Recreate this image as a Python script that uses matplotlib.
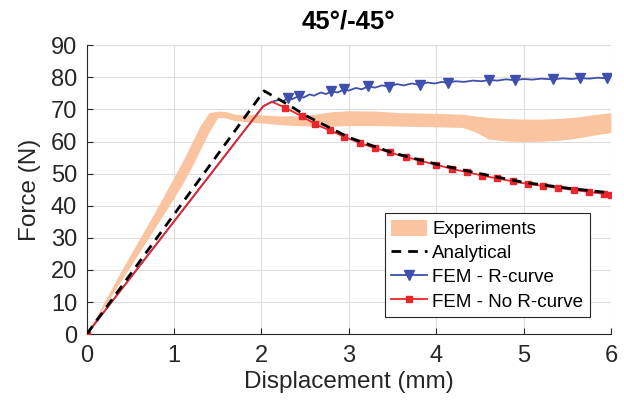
import numpy as np
import matplotlib
matplotlib.use("Agg")
import matplotlib.pyplot as plt

plt.rcParams["font.family"] = ["Liberation Sans", "DejaVu Sans"]

# Experimental envelope (lower / upper force bounds)
exp_x = [0, 0.2, 0.4, 0.6, 0.8, 1.0, 1.1, 1.2, 1.3, 1.4, 1.5, 1.6, 1.7, 1.8, 1.9,
         2.0, 2.2, 2.4, 2.6, 2.8, 3.0, 3.3, 3.6, 4.0, 4.3, 4.45, 4.6, 4.8, 5.0,
         5.2, 5.4, 5.6, 5.8, 6.0]
exp_lo = [0, 8.5, 17, 25.5, 34, 42.5, 47, 52, 57.5, 63, 67.5, 67.3, 66.5, 66.3, 66.0,
          65.8, 65.3, 65.0, 64.8, 64.8, 65.0, 65.0, 64.8, 64.6, 64.4, 63.0, 60.8,
          60.2, 60.0, 60.1, 60.4, 61.0, 62.0, 62.8]
exp_hi = [0, 10, 20, 29.5, 39, 49, 54, 59.5, 65, 69, 69.5, 69.3, 68.5, 68.3, 68.5,
          68.3, 68.0, 68.0, 68.5, 69.3, 69.6, 69.5, 69.0, 68.8, 68.5, 68.0, 67.5,
          67.2, 67.0, 67.0, 67.2, 67.6, 68.4, 69.0]

# Analytical model
ana_x = [0, 2.03, 2.3, 2.5, 3.0, 3.5, 4.0, 4.5, 5.0, 5.5, 6.0]
ana_y = [0, 75.8, 71.6, 68.2, 61.3, 56.5, 53.0, 50.0, 47.3, 45.5, 44.0]

# FEM without R-curve
nor_x = [0, 2.02, 2.12, 2.27, 2.46, 2.61, 2.78, 2.95, 3.13, 3.3, 3.47, 3.65, 3.82,
         4.0, 4.18, 4.35, 4.53, 4.7, 4.88, 5.05, 5.22, 5.4, 5.58, 5.75, 5.92, 6.0]
nor_y = [0, 71.0, 72.4, 70.6, 67.9, 65.5, 63.5, 61.5, 59.5, 58.0, 56.6, 55.2, 54.0,
         52.8, 51.5, 50.5, 49.4, 48.5, 47.6, 46.8, 46.2, 45.5, 44.9, 44.3, 43.7, 43.4]

# FEM with R-curve
rc_x = [0, 2.02, 2.12, 2.2, 2.25, 2.3, 2.35, 2.43, 2.48, 2.55, 2.6, 2.68, 2.74, 2.8,
        2.87, 2.95, 3.0, 3.08, 3.15, 3.22, 3.3, 3.38, 3.46, 3.55, 3.63, 3.72, 3.81,
        3.9, 3.98, 4.07, 4.13, 4.22, 4.32, 4.42, 4.52, 4.61, 4.7, 4.8, 4.9, 5.0,
        5.1, 5.2, 5.34, 5.45, 5.55, 5.65, 5.75, 5.85, 5.95, 6.0]
rc_y = [0, 71.0, 72.4, 73.0, 72.6, 73.6, 73.2, 74.2, 73.7, 74.7, 74.3, 75.3, 74.8,
        75.7, 75.3, 76.3, 75.9, 76.7, 76.3, 77.2, 76.8, 77.5, 77.1, 77.9, 77.5, 78.1,
        77.7, 78.4, 78.1, 78.6, 78.3, 78.8, 78.6, 79.0, 78.8, 79.2, 79.0, 79.4, 79.1,
        79.5, 79.3, 79.6, 79.4, 79.7, 79.5, 79.8, 79.6, 79.9, 79.7, 79.9]
rc_marks = [2.3, 2.43, 2.8, 2.95, 3.22, 3.46, 3.81, 4.13, 4.61, 4.9, 5.34, 5.65, 5.95]

rc_x_arr = np.array(rc_x)
rc_every = [int(np.argmin(np.abs(rc_x_arr - m))) for m in rc_marks]
nor_every = [0] + list(range(3, len(nor_x)))

fig = plt.figure(figsize=(6.24, 4.08), dpi=100)
ax = fig.add_axes([0.139, 0.181, 0.840, 0.708])

ax.fill_between(exp_x, exp_lo, exp_hi, color="#f9c49f", lw=0, label="Experiments", zorder=2)
ax.plot(ana_x, ana_y, "--", color="black", lw=2.0, dashes=(3.5, 2.5), label="Analytical", zorder=5)
ax.plot(rc_x, rc_y, color="#3f4fae", lw=1.3, marker="v", ms=6.5, markevery=rc_every,
        label="FEM - R-curve", zorder=3)
ax.plot(nor_x, nor_y, color="#e8262b", lw=1.3, marker="s", ms=4.5, markevery=nor_every,
        label="FEM - No R-curve", zorder=4)

ax.set_xlim(0, 6)
ax.set_ylim(0, 90)
ax.set_xticks(range(0, 7))
ax.set_yticks(range(0, 91, 10))
ax.grid(True, color="#dedede", lw=0.8)
ax.set_axisbelow(True)
for s in ("top", "right"):
    ax.spines[s].set_visible(False)
for s in ("left", "bottom"):
    ax.spines[s].set_color("#262626")
    ax.spines[s].set_linewidth(0.8)
ax.tick_params(direction="in", labelsize=17, colors="#262626", length=4)
ax.tick_params(axis="x", pad=8)
ax.tick_params(axis="y", pad=7)

ax.set_xlabel("Displacement (mm)", fontsize=17.5, color="#262626", labelpad=3)
ax.set_ylabel("Force (N)", fontsize=17.5, color="#262626", labelpad=7)
ax.set_title("45°/-45°", fontsize=18.5, fontweight="bold", pad=12)

leg = ax.legend(loc="lower right", bbox_to_anchor=(0.96, 0.059), fontsize=13.5,
                frameon=True, fancybox=False, framealpha=1, edgecolor="#262626",
                borderpad=0.35, labelspacing=0.3, handlelength=1.9, handleheight=0.95,
                handletextpad=0.3, borderaxespad=0)
leg.get_frame().set_linewidth(0.8)

fig.savefig("out.png", dpi=100)
